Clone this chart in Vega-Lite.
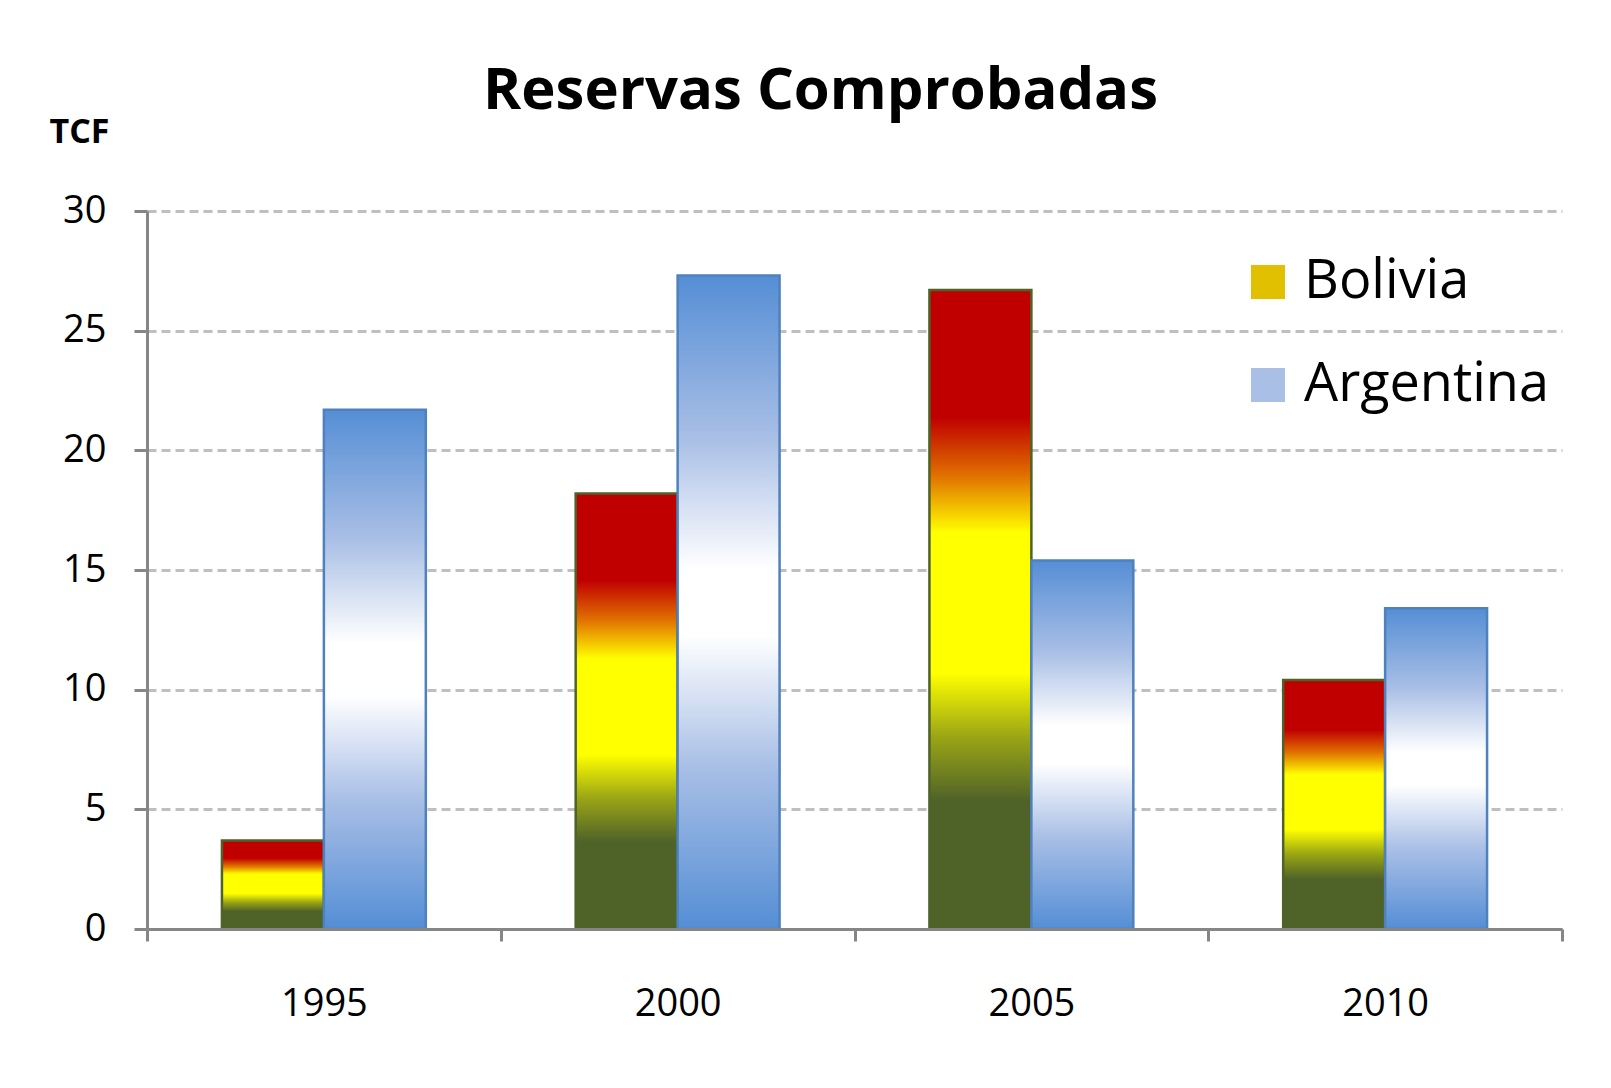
{
  "$schema": "https://vega.github.io/schema/vega-lite/v6.json",
  "width": 1415,
  "height": 718,
  "autosize": {"type": "none"},
  "padding": {"left": 147, "top": 211, "right": 49, "bottom": 159},
  "background": "white",
  "config": {"view": {"stroke": null}, "font": "Open Sans"},
  "title": {"text": "Reservas Comprobadas", "fontSize": 58, "fontWeight": "bold", "font": "Open Sans", "color": "black", "anchor": "middle", "dx": -34, "dy": 56, "offset": 4, "baseline": "alphabetic"},
  "data": {"values": [
    {"year": "1995", "country": "Bolivia", "tcf": 3.7},
    {"year": "1995", "country": "Argentina", "tcf": 21.7},
    {"year": "2000", "country": "Bolivia", "tcf": 18.2},
    {"year": "2000", "country": "Argentina", "tcf": 27.3},
    {"year": "2005", "country": "Bolivia", "tcf": 26.7},
    {"year": "2005", "country": "Argentina", "tcf": 15.4},
    {"year": "2010", "country": "Bolivia", "tcf": 10.4},
    {"year": "2010", "country": "Argentina", "tcf": 13.4}
  ]},
  "encoding": {
    "x": {
      "field": "year", "type": "nominal", "sort": null,
      "scale": {"paddingInner": 0, "paddingOuter": 0},
      "axis": {"title": null, "labelAngle": 0, "labelFontSize": 38, "labelColor": "black", "labelPadding": 44, "tickBand": "extent", "domainColor": "#868686", "domainWidth": 3, "tickColor": "#868686", "tickWidth": 3, "tickSize": 12, "grid": false, "zindex": 1}
    },
    "xOffset": {"field": "country", "type": "nominal", "sort": ["Bolivia", "Argentina"], "scale": {"domain": ["Bolivia", "Argentina"], "paddingInner": 0, "paddingOuter": 0.735}},
    "y": {
      "field": "tcf", "type": "quantitative",
      "scale": {"domain": [0, 30], "nice": false},
      "axis": {"values": [0, 5, 10, 15, 20, 25, 30], "labelFontSize": 38, "labelColor": "black", "labelPadding": 28, "domainColor": "#868686", "domainWidth": 3, "tickColor": "#868686", "tickWidth": 3, "tickSize": 13, "grid": true, "gridColor": "#BFBFBF", "gridWidth": 3, "gridDash": [9, 5], "title": "TCF", "titleAngle": 0, "titleX": -68, "titleY": -79, "titleAlign": "center", "titleBaseline": "middle", "titleFontSize": 34, "titleFontWeight": "bold", "titleColor": "black", "zindex": 0}
    }
  },
  "layer": [
    {
      "mark": {"type": "bar"},
      "encoding": {
        "fill": {
          "field": "country", "type": "nominal",
          "scale": {"domain": ["Bolivia", "Argentina"], "range": ["#E0C000", "#A9BFE6"]},
          "legend": {"title": null, "orient": "none", "legendX": 1094, "legendY": 44, "padding": 0, "symbolType": "square", "symbolSize": 1156, "symbolStrokeWidth": 2.5, "labelFontSize": 54, "labelColor": "black", "labelOffset": 9, "labelLimit": 0, "rowPadding": 49}
        }
      }
    },
    {
      "mark": {"type": "bar", "strokeWidth": 2.5},
      "encoding": {
        "fill": {
          "condition": {"test": "datum.country === 'Bolivia'", "value": {"gradient": "linear", "x1": 0, "y1": 0, "x2": 0, "y2": 1, "stops": [
              {"offset": 0, "color": "#C00000"}, {"offset": 0.2, "color": "#C00000"}, {"offset": 0.29, "color": "#E07000"}, {"offset": 0.38, "color": "#FFFF00"}, {"offset": 0.6, "color": "#FFFF00"}, {"offset": 0.7, "color": "#9AA515"}, {"offset": 0.8, "color": "#4F6228"}, {"offset": 1, "color": "#4F6228"}]}},
          "value": {"gradient": "linear", "x1": 0, "y1": 0, "x2": 0, "y2": 1, "stops": [
              {"offset": 0, "color": "#558ED5"}, {"offset": 0.25, "color": "#A9BFE6"}, {"offset": 0.45, "color": "#FFFFFF"}, {"offset": 0.55, "color": "#FFFFFF"}, {"offset": 0.75, "color": "#A9BFE6"}, {"offset": 1, "color": "#558ED5"}]}
        },
        "stroke": {
          "condition": {"test": "datum.country === 'Bolivia'", "value": "#4F6228"},
          "value": "#4F81BD"
        }
      }
    }
  ]
}
